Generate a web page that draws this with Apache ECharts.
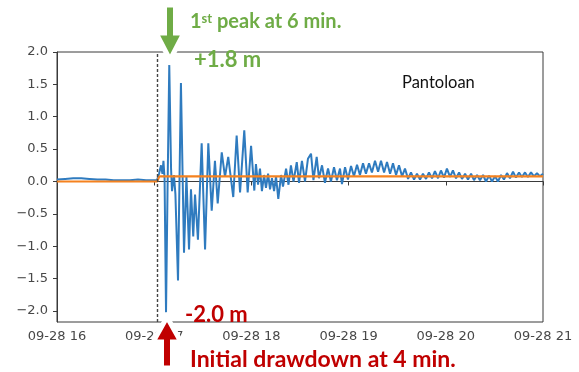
<!DOCTYPE html>
<html>
<head>
<meta charset="utf-8">
<script src="https://cdn.jsdelivr.net/npm/echarts@6/dist/echarts.min.js"></script>
<style>html,body{margin:0;padding:0;background:#fff}#c{width:579px;height:372px}</style>
</head>
<body>
<div id="c"></div>
<script>
// minutes after 09-28 16:00
const xTickLabels = ['09-28 16','09-28 17','09-28 18','09-28 19','09-28 20','09-28 21'];
const yTicks = [-2.0,-1.5,-1.0,-0.5,0.0,0.5,1.0,1.5,2.0];
const quakeMinute = 61.7;

const obsTime = [
  0,5,10,15,20,25,30,35,40,45,50,55,60,
  61.7,63,64.2,65.1,65.7,66.4,67.3,68.2,69.3,70.4,71,72.2,73.1,74.7,76.5,78.4,79.9,
  81.5,82.7,84.1,85.2,87,89.3,91.4,93.4,95.5,97.5,99.2,101.7,103.7,105.7,108.8,110.9,
  113,115.6,117.7,119.8,121.8,122.8,124.1,125.3,126.5,127.8,129,130.3,131.5,132.7,134,
  135.2,136.6,138.3,139.5,141.4,142.9,144.4,146,148,149.4,151.2,153.1,154.9,156.8,158.3,
  160.3,161.7,163.6,165.4,167.3,169.1,171,172.8,174.7,175.9,177.8,179.6,181.5,183.3,185.2,
  187,188.9,190.7,192.6,194.4,196.3,198.2,200,201.9,203.7,205.6,207.4,209.3,211.1,213,
  214.8,216.7,218.5,220.4,222.2,224.1,225.9,227.8,229.6,231.5,233.3,235.2,237,238.9,240.7,
  242.6,244.4,246.3,248.2,250,251.9,253.7,255.6,257.4,259.3,261.1,263,264.8,266.7,268.5,
  270.4,272.2,274.1,275.9,277.8,279.6,281.5,283.3,285.2,287,288.9,290.7,292.6,294.4,296.3,
  298.1,300
];
const obsLevel = [
  0.03,0.04,0.05,0.05,0.04,0.03,0.03,0.02,0.02,0.02,0.03,0.02,0.02,
  0.02,0.12,0.25,0.12,0.32,0.05,-2.02,-0.2,1.8,0.2,-0.15,0.1,-0.2,-1.53,1.52,-1.1,0.08,
  -1.05,-0.12,-0.85,-0.2,-0.9,0.59,-1.05,0.59,-0.45,0.32,-0.34,0.45,0.07,0.38,-0.24,0.71,
  -0.17,0.79,-0.17,0.55,-0.14,0.27,-0.05,0.2,-0.15,0.1,-0.1,0.12,-0.12,0.05,-0.15,
  0.08,-0.27,0.1,-0.08,0.2,-0.05,0.25,0.0,0.3,-0.02,0.32,0.0,0.35,0.43,0.02,
  0.38,0.05,0.25,-0.02,0.2,0.0,0.22,0.02,0.2,-0.04,0.22,0.03,0.24,0.08,0.26,
  0.1,0.28,0.12,0.28,0.14,0.32,0.15,0.32,0.14,0.3,0.12,0.28,0.1,0.25,0.08,
  0.2,0.04,0.14,0.03,0.12,0.03,0.12,0.04,0.14,0.05,0.16,0.05,0.17,0.06,0.2,
  0.07,0.17,0.05,0.14,0.04,0.12,0.03,0.12,0.02,0.1,0.02,0.1,0.0,0.09,0.0,
  0.08,0.0,0.1,0.03,0.13,0.05,0.15,0.06,0.14,0.07,0.14,0.07,0.14,0.08,0.13,
  0.08,0.12
];
const tideTime = [0, 61.8, 63.2, 300];
const tideLevel = [0.0, 0.0, 0.08, 0.08];

const zip = (a, b) => a.map((v, i) => [v, b[i]]);
const chart = echarts.init(document.getElementById('c'), null, {renderer: 'canvas'});
const fmtY = v => {
  const r = Math.round(v * 10) / 10;
  if (Math.abs(v - r) > 1e-6 || Math.abs(r * 2 - Math.round(r * 2)) > 1e-6) return '';
  return r.toFixed(1).replace('-', '\u2212');
};
const green = '#6fac46', red = '#c00000';
chart.setOption({
  animation: false,
  grid: {left: 57, right: 36, top: 52, bottom: 50, show: true, borderColor: '#3a3a3a', borderWidth: 1},
  xAxis: {
    type: 'value', min: 0, max: 300, interval: 60,
    axisLine: {lineStyle: {color: '#3a3a3a', width: 1}},
    axisTick: {show: true, length: 4, lineStyle: {color: '#3a3a3a'}},
    splitLine: {show: false},
    axisLabel: {color: '#484848', fontFamily: 'DejaVu Sans', fontSize: 13, margin: 8,
      formatter: v => xTickLabels[Math.round(v / 60)] || ''}
  },
  yAxis: {
    type: 'value', min: -2.17, max: 2.0, splitNumber: 8,
    axisLine: {show: true, lineStyle: {color: '#3a3a3a', width: 1}},
    axisTick: {show: true, length: 4, lineStyle: {color: '#3a3a3a'}},
    splitLine: {show: false},
    axisLabel: {color: '#484848', fontFamily: 'DejaVu Sans', fontSize: 13, margin: 9, showMinLabel: false,
      formatter: fmtY}
  },
  series: [
    {
      type: 'line', data: zip(obsTime, obsLevel), showSymbol: false,
      lineStyle: {color: '#2f7bbf', width: 2}, itemStyle: {color: '#2f7bbf'},
      markLine: {silent: true, symbol: 'none', label: {show: false},
        lineStyle: {color: '#444', type: [3, 2], width: 1.4},
        data: [{xAxis: quakeMinute}]}
    },
    {
      type: 'line', data: zip(tideTime, tideLevel), showSymbol: false,
      lineStyle: {color: '#f5821f', width: 2.2}, itemStyle: {color: '#f5821f'}
    }
  ],
  graphic: [
    {type: 'polygon', z: 100, shape: {points: [[164.5,5],[175.5,5],[175.5,33],[184,33],[170,60],[156,33],[164.5,33]]},
      style: {fill: green, stroke: '#fff', lineWidth: 5}},
    {type: 'polygon', z: 100, shape: {points: [[167,317],[181,342],[172.5,342],[172.5,368],[161.5,368],[161.5,342],[153,342]]},
      style: {fill: red, stroke: '#fff', lineWidth: 5}},
    {type: 'text', z: 101, style: {x: 190, y: 22, textVerticalAlign: 'middle',
      text: '{a|1}{s|st}{a| peak at 6 min.}',
      rich: {a: {font: 'bold 20px Lato', fill: green}, s: {font: 'bold 13px Lato', fill: green, verticalAlign: 'top'}}}},
    {type: 'text', z: 101, style: {x: 194, y: 60, textVerticalAlign: 'middle', text: '+1.8 m', font: 'bold 22px Lato', fill: green}},
    {type: 'text', z: 101, style: {x: 402, y: 83, textVerticalAlign: 'middle', text: 'Pantoloan', font: '16.5px Lato', fill: '#111'}},
    {type: 'text', z: 101, style: {x: 185, y: 315, textVerticalAlign: 'middle', text: '-2.0 m', font: 'bold 22px Lato', fill: red}},
    {type: 'text', z: 101, style: {x: 190, y: 360, textVerticalAlign: 'middle', text: 'Initial drawdown at 4 min.', font: 'bold 23px Lato', fill: red}}
  ]
});
</script>
</body>
</html>
